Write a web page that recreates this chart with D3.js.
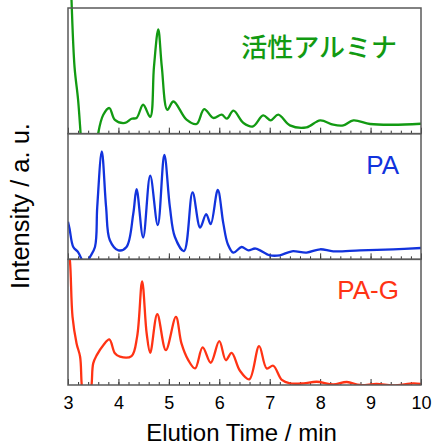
<!DOCTYPE html>
<html>
<head>
<meta charset="utf-8">
<script src="https://cdn.jsdelivr.net/npm/d3@7"></script>
<style>
  body { margin: 0; background: #fff; }
  svg { display: block; }
</style>
</head>
<body>
<div id="chart-area"></div>
<script>
const timeTicks = [3, 4, 5, 6, 7, 8, 9, 10];
const panelNames = ["活性アルミナ", "PA", "PA-G"];
const panelColors = ["#129a12", "#1233dd", "#ff3314"];

const aluminaTime = [3.0, 3.07, 3.13, 3.2, 3.25, 3.3, 3.35, 3.5, 3.6, 3.7, 3.82, 3.93, 4.13, 4.26, 4.36, 4.49, 4.63, 4.705, 4.79, 4.86, 4.97, 5.09, 5.35, 5.55, 5.70, 5.88, 6.05, 6.15, 6.28, 6.48, 6.67, 6.87, 7.02, 7.17, 7.40, 7.73, 8.00, 8.26, 8.46, 8.66, 8.99, 9.45, 10.0];
const aluminaValue = [200, 106, 53, 27, 0, -30, -40, -40, 0.5, 15, 20.4, 11, 8.5, 11.9, 12.5, 23, 13.3, 53.4, 83, 53.4, 19, 25.6, 11.1, 7.7, 19.6, 12.5, 15.1, 11.9, 18.3, 8.5, 5.8, 14.5, 10.6, 15.1, 6.6, 5, 10.6, 7.1, 6.6, 10.6, 7.7, 7.1, 7.9];

const paTime = [3.0, 3.03, 3.105, 3.2, 3.27, 3.31, 3.38, 3.42, 3.535, 3.58, 3.67, 3.755, 3.83, 4.0, 4.16, 4.295, 4.36, 4.49, 4.63, 4.78, 4.91, 5.02, 5.12, 5.30, 5.47, 5.62, 5.74, 5.83, 5.97, 6.08, 6.17, 6.28, 6.44, 6.575, 6.72, 7.005, 7.20, 7.44, 7.73, 8.0, 8.26, 8.79, 9.45, 10.0];
const paValue = [30, 24.6, 9.8, 5.8, 0, -5, -5, 0.6, 9.8, 41.8, 85.8, 41.8, 15.2, 7.2, 9.8, 36.5, 55.8, 17.3, 66.6, 27.2, 83.2, 41.8, 17.8, 6.6, 53.3, 25.3, 36, 28, 55.2, 28.6, 12, 5.3, 9.8, 7.2, 8.6, 3.2, 3.2, 6.4, 5.4, 8, 6.4, 7.2, 8, 9];

const pagTime = [3.0, 3.04, 3.09, 3.17, 3.24, 3.27, 3.32, 3.42, 3.47, 3.50, 3.57, 3.70, 3.82, 3.93, 4.03, 4.26, 4.37, 4.47, 4.56, 4.63, 4.77, 4.94, 5.14, 5.25, 5.385, 5.52, 5.67, 5.83, 6.0, 6.13, 6.245, 6.41, 6.595, 6.79, 6.94, 7.07, 7.24, 7.40, 7.67, 7.93, 8.26, 8.53, 8.79, 9.12, 9.45, 9.85, 10.0];
const pagValue = [110, 97.9, 54.2, 33.1, 22.5, 1.3, -20, -20, 1.3, 17.2, 23.8, 31.7, 36.3, 25.2, 22.5, 23, 38.3, 82.5, 41, 25.6, 56.3, 27.8, 54.2, 33.1, 19.8, 13.2, 29.9, 17.7, 34.9, 19.8, 25.6, 11.3, 4.5, 31, 13.2, 15.3, 4, 1.3, 1.3, 2.6, 0.5, 2.4, 0, 0.8, -0.3, 1.3, 0.8];

const series = [
    { name: panelNames[0], color: panelColors[0], time: aluminaTime, value: aluminaValue },
    { name: panelNames[1], color: panelColors[1], time: paTime, value: paValue },
    { name: panelNames[2], color: panelColors[2], time: pagTime, value: pagValue }
];

const width = 432;
const height = 446;
const margin = { top: 8, right: 11, bottom: 61, left: 68 };
const plotW = width - margin.left - margin.right;
const plotH = height - margin.top - margin.bottom;
const panelH = plotH / 3;

const svg = d3.select("#chart-area")
    .append("svg")
    .attr("width", width)
    .attr("height", height);

const g = svg.append("g")
    .attr("transform", `translate(${margin.left}, ${margin.top})`);

const x = d3.scaleLinear()
    .domain([3, 10])
    .range([0, plotW]);

const y = d3.scaleLinear()
    .domain([0, 100])
    .range([panelH, 0]);

const line = d3.line()
    .x(d => x(d[0]))
    .y(d => y(d[1]))
    .curve(d3.curveCatmullRom.alpha(0.5));

const minorTicks = d3.range(3, 10.001, 0.2).map(v => Math.round(v * 10) / 10);

series.forEach((s, i) => {
    const panel = g.append("g")
        .attr("transform", `translate(0, ${i * panelH})`);

    // Recorte: el panel superior deja salir la curva por arriba
    const extraTop = i === 0 ? 20 : 0;
    panel.append("clipPath")
        .attr("id", "clip" + i)
        .append("rect")
        .attr("x", 0)
        .attr("y", -extraTop)
        .attr("width", plotW)
        .attr("height", panelH + extraTop);

    // Ejes con marcas hacia dentro
    const minorAxis = d3.axisBottom(x)
        .tickValues(minorTicks)
        .tickSize(-3)
        .tickFormat("");
    panel.append("g")
        .attr("class", "minor axis")
        .attr("transform", `translate(0, ${panelH})`)
        .call(minorAxis)
        .call(a => a.select(".domain").remove())
        .call(a => a.selectAll("line").attr("stroke", "#333"));

    const majorAxis = d3.axisBottom(x)
        .tickValues(timeTicks)
        .tickSize(-6)
        .tickPadding(11)
        .tickFormat(i < 2 ? "" : d3.format("d"));
    panel.append("g")
        .attr("class", "major axis")
        .attr("transform", `translate(0, ${panelH})`)
        .call(majorAxis)
        .call(a => a.select(".domain").remove())
        .call(a => a.selectAll("line").attr("stroke", "#333"))
        .call(a => a.selectAll("text")
            .attr("font-family", "Liberation Sans, Arial, sans-serif")
            .attr("font-size", "18px")
            .attr("fill", "#000"));

    const pts = s.time.map((t, k) => [t, s.value[k]]);
    panel.append("path")
        .datum(pts)
        .attr("clip-path", `url(#clip${i})`)
        .attr("fill", "none")
        .attr("stroke", s.color)
        .attr("stroke-width", 2.3)
        .attr("stroke-linejoin", "round")
        .attr("d", line);

    // Marco del panel
    panel.append("rect")
        .attr("width", plotW)
        .attr("height", panelH)
        .attr("fill", "none")
        .attr("stroke", "#5a5a5a")
        .attr("stroke-width", 1.5);

    panel.append("text")
        .attr("x", i === 0 ? 329 : 331)
        .attr("y", i === 0 ? 49 : 40)
        .attr("text-anchor", "end")
        .attr("font-family", i === 0 ? "Noto Sans CJK JP, sans-serif" : "Liberation Sans, Arial, sans-serif")
        .attr("font-weight", i === 0 ? 500 : 400)
        .attr("font-size", i === 0 ? "26px" : "26px")
        .attr("fill", s.color)
        .text(s.name);
});

// Etiqueta del eje X
g.append("text")
    .attr("x", plotW / 2 - 3)
    .attr("y", plotH + 56)
    .attr("text-anchor", "middle")
    .attr("font-family", "Liberation Sans, Arial, sans-serif")
    .attr("font-size", "24px")
    .attr("fill", "#000")
    .text("Elution Time / min");

// Etiqueta del eje Y
svg.append("text")
    .attr("transform", "rotate(-90)")
    .attr("x", -206)
    .attr("y", 29)
    .attr("text-anchor", "middle")
    .attr("font-family", "Liberation Sans, Arial, sans-serif")
    .attr("font-size", "25.5px")
    .attr("fill", "#000")
    .text("Intensity / a. u.");
</script>
</body>
</html>
